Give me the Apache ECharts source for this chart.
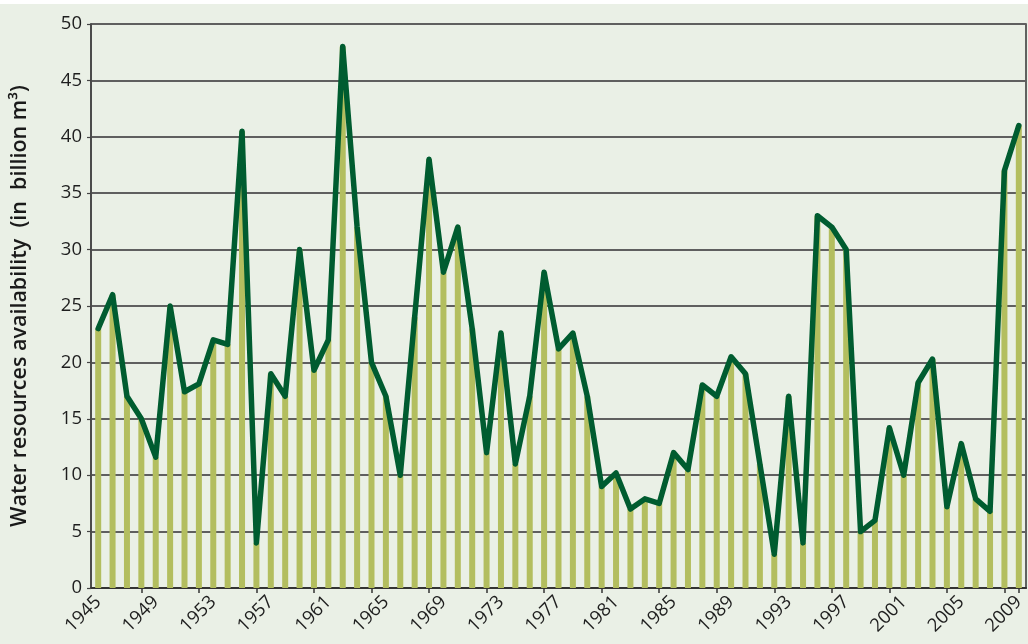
<!DOCTYPE html>
<html>
<head>
<meta charset="utf-8">
<script src="https://cdn.jsdelivr.net/npm/echarts@6/dist/echarts.min.js"></script>
<style>
  html, body { margin: 0; padding: 0; background: #ffffff; }
  #chart { position: absolute; left: 0; top: 4px; width: 1028px; height: 640px; background: #EAF0E6; }
</style>
</head>
<body>
<div id="chart"></div>
<script>
// Annual water resources availability, billion m3
const years = [];
for (let y = 1945; y <= 2009; y++) years.push(String(y));

const availability = [
  23, 26, 17, 15, 11.6, 25, 17.4, 18.1, 22, 21.6,      // 1945-1954
  40.5, 4, 19, 17, 30, 19.3, 22, 48, 32, 20,           // 1955-1964
  17, 10, 24, 38, 28, 32, 23, 12, 22.6, 11,            // 1965-1974
  17, 28, 21.2, 22.6, 17, 9, 10.2, 7, 7.9, 7.5,        // 1975-1984
  12, 10.5, 18, 17, 20.5, 19, 11, 3, 17, 4,            // 1985-1994
  33, 32, 30, 5, 6, 14.2, 10, 18.2, 20.3, 7.2,         // 1995-2004
  12.8, 7.9, 6.8, 37, 41                               // 2005-2009
];

const yTicks = { min: 0, max: 50, step: 5 };
const axisTitle = 'Water resources availability  (in  billion m\u00B3)';

const chart = echarts.init(document.getElementById('chart'), null, { renderer: 'canvas' });

chart.setOption({
  backgroundColor: '#EAF0E6',
  animation: false,
  grid: {
    left: 91, right: 2, top: 20, bottom: 56,
    show: true, borderColor: '#333333', borderWidth: 1.5,
    backgroundColor: 'transparent'
  },
  xAxis: {
    type: 'category',
    data: years,
    boundaryGap: true,
    axisLine: { show: true, lineStyle: { color: '#333333', width: 2 } },
    axisTick: {
      show: true, alignWithLabel: true, length: 5,
      interval: (idx) => idx % 4 === 3 || idx === years.length - 1,
      lineStyle: { color: '#333333', width: 1.5 }
    },
    axisLabel: {
      interval: (idx) => idx % 4 === 0,
      rotate: 45, margin: 11,
      fontFamily: 'Open Sans', fontSize: 18.5, color: '#1e1e1e'
    },
    splitLine: { show: false }
  },
  yAxis: {
    type: 'value',
    min: yTicks.min, max: yTicks.max, interval: yTicks.step,
    name: axisTitle,
    nameLocation: 'middle',
    nameGap: 60,
    nameRotate: 90,
    nameTextStyle: { fontFamily: 'Open Sans', fontSize: 21.5, fontWeight: 600, color: '#1a1a1a' },
    axisLine: { show: true, lineStyle: { color: '#444444', width: 1.5 } },
    axisTick: { show: true, length: 4, lineStyle: { color: '#444444', width: 1.2 } },
    axisLabel: { margin: 9, fontFamily: 'Open Sans', fontSize: 18.5, color: '#1e1e1e' },
    splitLine: { show: true, lineStyle: { color: '#5f5f5f', width: 2 } }
  },
  series: [
    {
      type: 'bar',
      data: availability,
      barWidth: 6,
      itemStyle: { color: '#B3BE5F' },
      z: 2
    },
    {
      type: 'line',
      data: availability,
      symbol: 'none',
      lineStyle: { color: '#005C30', width: 5.5, join: 'round', cap: 'round' },
      z: 3
    }
  ]
});
</script>
</body>
</html>
